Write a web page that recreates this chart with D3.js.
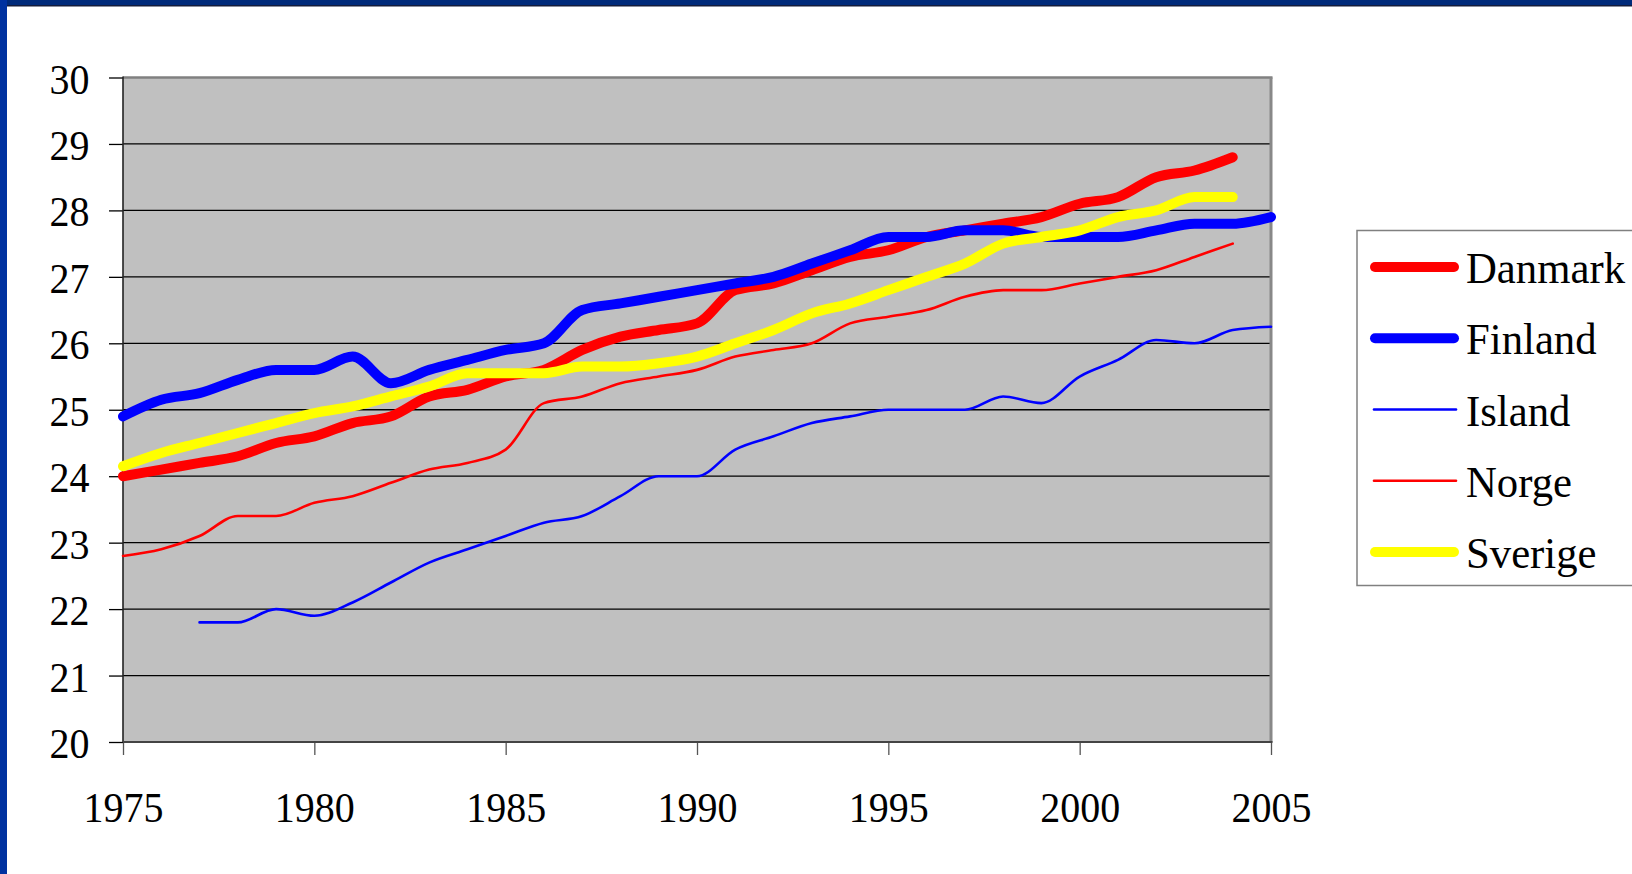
<!DOCTYPE html>
<html><head><meta charset="utf-8">
<script src="https://cdn.jsdelivr.net/npm/d3@7"></script>
<style>html,body{margin:0;padding:0;background:#fff;overflow:hidden}</style>
</head><body>
<svg id="c" width="1632" height="874"></svg>
<script>
// ---- data ----
const years   = [1975,1976,1977,1978,1979,1980,1981,1982,1983,1984,1985,1986,1987,1988,1989,1990,1991,1992,1993,1994,1995,1996,1997,1998,1999,2000,2001,2002,2003,2004,2005];
const danmark = [24.0,24.1,24.2,24.3,24.5,24.6,24.8,24.9,25.2,25.3,25.5,25.6,25.9,26.1,26.2,26.3,26.8,26.9,27.1,27.3,27.4,27.6,27.7,27.8,27.9,28.1,28.2,28.5,28.6,28.8,null];
const finland = [24.9,25.15,25.25,25.45,25.6,25.6,25.8,25.4,25.6,25.75,25.9,26.0,26.5,26.6,26.7,26.8,26.9,27.0,27.2,27.4,27.6,27.6,27.7,27.7,27.6,27.6,27.6,27.7,27.8,27.8,27.9];
const island  = [null,null,21.8,21.8,22.0,21.9,22.1,22.4,22.7,22.9,23.1,23.3,23.4,23.7,24.0,24.0,24.4,24.6,24.8,24.9,25.0,25.0,25.0,25.2,25.1,25.5,25.75,26.05,26.0,26.2,26.25];
const norge   = [22.8,22.9,23.1,23.4,23.4,23.6,23.7,23.9,24.1,24.2,24.4,25.1,25.2,25.4,25.5,25.6,25.8,25.9,26.0,26.3,26.4,26.5,26.7,26.8,26.8,26.9,27.0,27.1,27.3,27.5,null];
const sverige = [24.15,24.35,24.5,24.65,24.8,24.95,25.05,25.2,25.35,25.55,25.55,25.55,25.65,25.65,25.7,25.8,26.0,26.2,26.45,26.6,26.8,27.0,27.2,27.5,27.6,27.7,27.9,28.0,28.2,28.2,null];
const seriesNames = ["Danmark","Finland","Island","Norge","Sverige"];
const yTicks = [20,21,22,23,24,25,26,27,28,29,30];
const xTicks = [1975,1980,1985,1990,1995,2000,2005];

// ---- styles ----
const seriesValues = [danmark, finland, island, norge, sverige];
const seriesColor = ["#ff0000","#0000ff","#0000ff","#ff0000","#ffff00"];
const seriesWidth = [10,10,2.6,2.6,10];
const FONT = "'Liberation Serif','Times New Roman',Times,serif";

const svg = d3.select("#c");
svg.append("rect").attr("width",1632).attr("height",874).attr("fill","#fff");
// slide frame
svg.append("rect").attr("x",0).attr("y",0).attr("width",1632).attr("height",5).attr("fill","#002a7a");
svg.append("rect").attr("x",0).attr("y",5).attr("width",1632).attr("height",1.5).attr("fill","#141c3c");
svg.append("rect").attr("x",0).attr("y",0).attr("width",7).attr("height",874).attr("fill","#0032a0");

const L = 123, R = 1271, T = 77.5, B = 742;
const x = d3.scaleLinear().domain([1975,2005]).range([L,R]);
const y = d3.scaleLinear().domain([20,30]).range([B,T]);

// plot area
svg.append("rect").attr("x",L).attr("y",T).attr("width",R-L).attr("height",B-T).attr("fill","#c0c0c0");

// gridlines
svg.append("g").selectAll("line")
  .data(yTicks.filter(v => v > 20 && v < 30))
  .join("line")
  .attr("x1",L).attr("x2",R)
  .attr("y1",d => y(d)).attr("y2",d => y(d))
  .attr("stroke","#000").attr("stroke-width",1.3);

// borders
svg.append("line").attr("x1",L).attr("x2",R+1.5).attr("y1",T).attr("y2",T).attr("stroke","#808080").attr("stroke-width",2.5);
svg.append("line").attr("x1",R).attr("x2",R).attr("y1",T).attr("y2",B).attr("stroke","#888").attr("stroke-width",3);

// y axis
const gy = svg.append("g").attr("transform",`translate(${L},0)`)
  .call(d3.axisLeft(y).tickValues(yTicks).tickSize(14).tickFormat(d3.format("d")));
gy.select(".domain").remove();
gy.selectAll(".tick line").attr("stroke","#000").attr("stroke-width",1.3);
gy.selectAll(".tick text")
  .attr("x",null).attr("dy",null)
  .attr("transform","translate(-33.5,15.5) scale(0.93,1)")
  .attr("text-anchor","end")
  .attr("font-family",FONT).attr("font-size",43).attr("fill","#000");

// x axis
const gx = svg.append("g").attr("transform",`translate(0,${B})`)
  .call(d3.axisBottom(x).tickValues(xTicks).tickSize(13).tickFormat(d3.format("d")));
gx.select(".domain").remove();
gx.selectAll(".tick line").attr("stroke","#555").attr("stroke-width",1.3);
gx.selectAll(".tick text")
  .attr("y",null).attr("dy",null)
  .attr("transform","translate(0,80) scale(0.93,1)")
  .attr("text-anchor","middle")
  .attr("font-family",FONT).attr("font-size",43).attr("fill","#000");

// axis lines
svg.append("line").attr("x1",L).attr("x2",L).attr("y1",T-1).attr("y2",B).attr("stroke","#222").attr("stroke-width",1.6);
svg.append("line").attr("x1",L).attr("x2",R+1.5).attr("y1",B).attr("y2",B).attr("stroke","#444").attr("stroke-width",2.2);

// series lines
const line = d3.line()
  .defined(d => d[1] != null)
  .x(d => x(d[0])).y(d => y(d[1]))
  .curve(d3.curveMonotoneX);

seriesNames.forEach((name, i) => {
  const pts = years.map((yr, j) => [yr, seriesValues[i][j]]);
  svg.append("path")
    .attr("d", line(pts))
    .attr("fill","none")
    .attr("stroke",seriesColor[i])
    .attr("stroke-width",seriesWidth[i])
    .attr("stroke-linejoin","round")
    .attr("stroke-linecap","round");
});

// legend
const lg = svg.append("g");
lg.append("rect").attr("x",1357).attr("y",230.5).attr("width",300).attr("height",355)
  .attr("fill","#fff").attr("stroke","#808080").attr("stroke-width",1.5);
seriesNames.forEach((name, i) => {
  const cy = 267 + i * 71.25;
  const thick = seriesWidth[i] > 5;
  lg.append("line")
    .attr("x1", thick ? 1375 : 1374).attr("x2", thick ? 1454 : 1456)
    .attr("y1",cy).attr("y2",cy)
    .attr("stroke",seriesColor[i]).attr("stroke-width",seriesWidth[i])
    .attr("stroke-linecap","round");
  lg.append("text")
    .attr("transform",`translate(1466,${cy+16}) scale(0.95,1)`)
    .attr("font-family",FONT).attr("font-size",45).attr("fill","#000")
    .text(name);
});
</script>
</body></html>
